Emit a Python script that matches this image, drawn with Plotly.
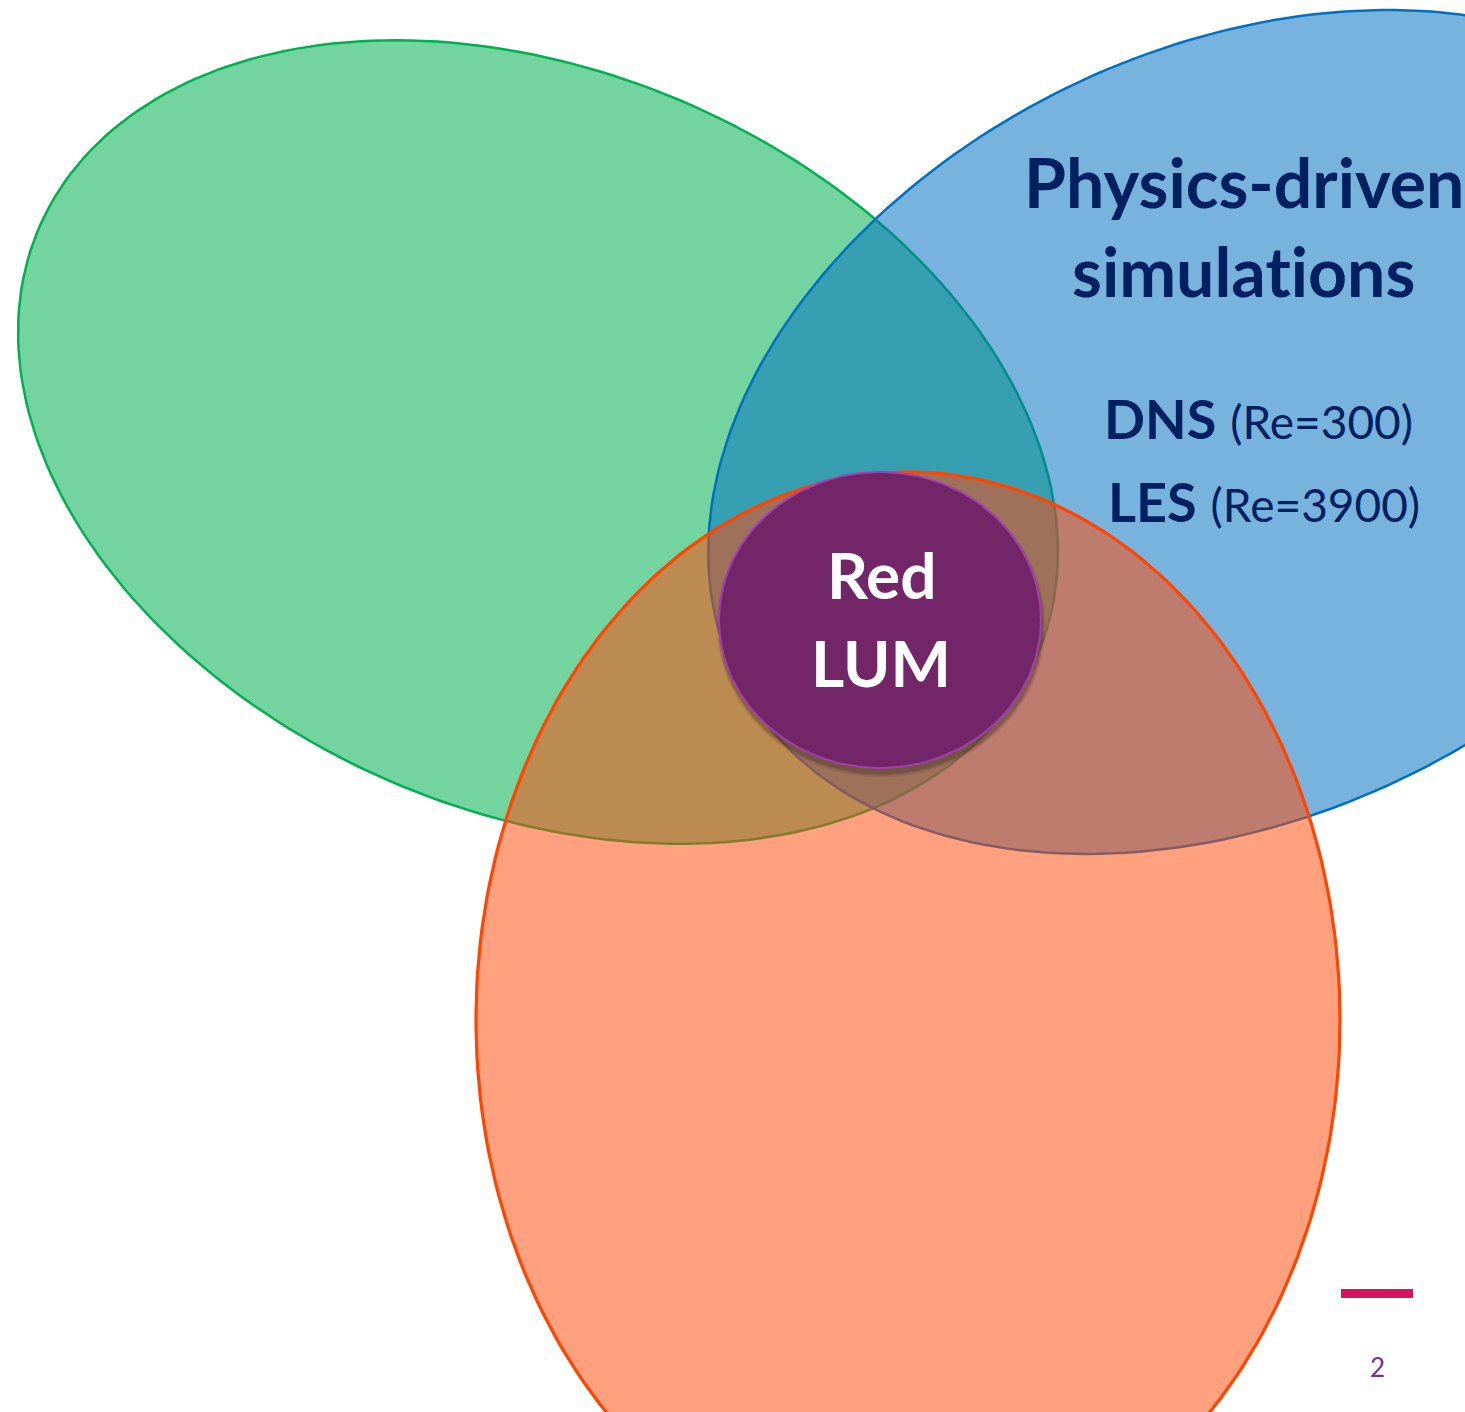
import numpy as np
import plotly.graph_objects as go

W, H = 1465, 1412

# Set ellipses (pixel space): name, cx, cy, semi-major, semi-minor, rotation deg (screen, y down)
set_names = ["ML", "Physics-driven simulations", "Data", "Red LUM"]
set_cx = [538, 1237, 908, 880]
set_cy = [442, 432, 1020, 620]
set_a = [543, 557, 432, 161]
set_b = [370, 384, 548, 148]
set_rot = [23.2, -25.7, 0.0, 0.0]
set_fill = ["rgba(0,176,80,0.55)", "rgba(0,112,192,0.53)", "rgba(255,72,10,0.52)", "rgba(114,38,104,1)"]
set_line = ["#00B050", "#0070C0", "#FF4500", "#A040B0"]
set_lw = [2.5, 2.5, 3.2, 2.0]

title_lines = ["Physics-driven", "simulat\u200cions"]
method_bold = ["DNS", "LES"]
method_re = ["(Re=300)", "(Re=3900)"]
center_lines = ["Red", "LUM"]
page_number = "2"

def ellipse(cx, cy, a, b, rot, n=240):
    t = np.linspace(0, 2 * np.pi, n)
    th = np.deg2rad(rot)
    x = cx + a * np.cos(t) * np.cos(th) - b * np.sin(t) * np.sin(th)
    y = cy + a * np.cos(t) * np.sin(th) + b * np.sin(t) * np.cos(th)
    return x, y

fig = go.Figure()
for i in range(4):
    if i == 3:
        # soft shadow under the centre disc
        for k, al in [(9, 0.08), (6, 0.12), (3, 0.18)]:
            sx, sy = ellipse(set_cx[i] + 1, set_cy[i] + 5, set_a[i] + k * 0.4, set_b[i] + k * 0.5, set_rot[i])
            fig.add_trace(go.Scatter(x=sx, y=sy, mode="lines", fill="toself",
                                     fillcolor=f"rgba(40,20,20,{al})", line=dict(width=0),
                                     hoverinfo="skip", showlegend=False))
    x, y = ellipse(set_cx[i], set_cy[i], set_a[i], set_b[i], set_rot[i])
    fig.add_trace(go.Scatter(x=x, y=y, mode="lines", fill="toself", fillcolor=set_fill[i],
                             line=dict(color=set_line[i], width=set_lw[i]),
                             name=set_names[i], hoverinfo="skip", showlegend=False))

FONT = "Lato"
navy = "#002060"
anns = []
anns.append(dict(x=1244, y=181, text=f"<b>{title_lines[0]}</b>", font=dict(size=68, color=navy, family=FONT)))
anns.append(dict(x=1243, y=270, text=f"<b>{title_lines[1]}</b>", font=dict(size=68, color=navy, family=FONT)))
anns.append(dict(x=1258, y=418, text=f"<b>{method_bold[0]}</b> <span style='font-size:46px'>{method_re[0]}</span>",
                 font=dict(size=54, color=navy, family=FONT)))
anns.append(dict(x=1264, y=501, text=f"<b>{method_bold[1]}</b> <span style='font-size:46px'>{method_re[1]}</span>",
                 font=dict(size=54, color=navy, family=FONT)))
anns.append(dict(x=882, y=574, text=f"<b>{center_lines[0]}</b>", font=dict(size=64, color="white", family=FONT)))
anns.append(dict(x=881, y=662, text=f"<b>{center_lines[1]}</b>", font=dict(size=64, color="white", family=FONT)))
anns.append(dict(x=1377, y=1367, text=page_number, font=dict(size=26, color="#7030A0", family=FONT)))
for a in anns:
    a.update(xref="x", yref="y", showarrow=False, xanchor="center", yanchor="middle")
fig.update_layout(annotations=anns)

# accent bar
fig.add_shape(type="rect", xref="x", yref="y", x0=1341, x1=1413, y0=1289, y1=1298,
              fillcolor="#D6145F", line=dict(width=0))

fig.update_xaxes(range=[0, W], visible=False, fixedrange=True)
fig.update_yaxes(range=[H, 0], visible=False, fixedrange=True)
fig.update_layout(width=W, height=H, margin=dict(l=0, r=0, t=0, b=0),
                  paper_bgcolor="white", plot_bgcolor="white", showlegend=False)
fig.write_html("out.html", config={"displayModeBar": False},
               post_script="document.body.style.margin='0';document.body.style.overflow='hidden';")
